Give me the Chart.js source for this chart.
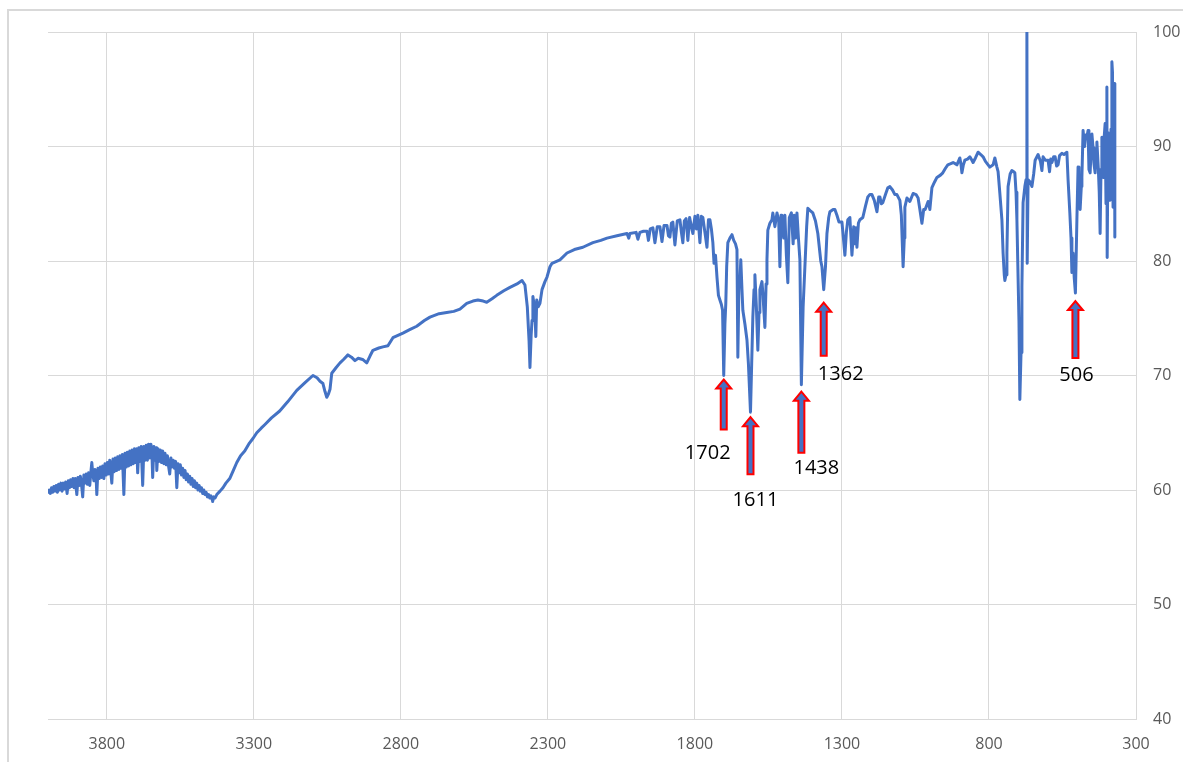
<!DOCTYPE html>
<html>
<head>
<meta charset="utf-8">
<title>FTIR spectrum</title>
<script src="https://cdn.jsdelivr.net/npm/chart.js@4/dist/chart.umd.min.js"></script>
<style>
  html, body { margin: 0; padding: 0; background: #ffffff; }
  body { width: 1183px; height: 762px; position: relative; overflow: hidden; }
  #frame {
    position: absolute; left: 7px; top: 9px; width: 1400px; height: 1000px;
    border-left: 2px solid #d9d9d9; border-top: 2px solid #d9d9d9;
  }
  #spectrum { position: absolute; left: 0; top: 0; }
</style>
</head>
<body>
<div id="frame"></div>
<canvas id="spectrum" width="1183" height="762"></canvas>
<script>
// Wavenumber (cm-1), scanned from high to low
const wavenumber = [
  4000, 3996, 3992, 3988, 3984, 3980, 3976, 3972, 3968, 3964,
  3960, 3956, 3952, 3948, 3944, 3940, 3935, 3931, 3927, 3923,
  3919, 3915, 3911, 3907, 3902, 3898, 3894, 3890, 3886, 3882,
  3878, 3874, 3870, 3866, 3862, 3858, 3854, 3851, 3848, 3844,
  3840, 3836, 3834, 3830, 3826, 3822, 3818, 3814, 3810, 3806,
  3802, 3798, 3794, 3790, 3786, 3783, 3779, 3775, 3771, 3767,
  3763, 3759, 3755, 3751, 3747, 3742, 3738, 3734, 3730, 3726,
  3722, 3718, 3714, 3710, 3706, 3702, 3698, 3695, 3691, 3687,
  3683, 3678, 3674, 3670, 3666, 3662, 3658, 3654, 3650, 3646,
  3644, 3640, 3636, 3632, 3630, 3626, 3622, 3618, 3614, 3610,
  3606, 3602, 3598, 3594, 3590, 3586, 3582, 3578, 3574, 3570,
  3566, 3562, 3558, 3554, 3550, 3546, 3542, 3538, 3534, 3530,
  3526, 3522, 3518, 3514, 3510, 3506, 3502, 3498, 3494, 3490,
  3486, 3482, 3478, 3474, 3470, 3466, 3462, 3458, 3454, 3450,
  3446, 3442, 3440, 3436, 3432, 3426, 3415,
  3405, 3395, 3382, 3370, 3358, 3345, 3331, 3315, 3303, 3290,
  3275, 3263, 3240, 3212, 3185, 3154, 3125, 3099, 3085, 3075,
  3065, 3058, 3052, 3046, 3041, 3035, 3020, 3007, 2995, 2980,
  2968, 2956, 2945, 2930, 2916, 2905, 2895, 2875, 2861, 2844,
  2827, 2810, 2793, 2770, 2746, 2720, 2701, 2670, 2644, 2620,
  2599, 2576, 2555, 2538, 2520, 2508, 2490, 2474, 2450, 2429,
  2405, 2388, 2378, 2370, 2364, 2361, 2357, 2354, 2351, 2347,
  2344, 2341, 2338, 2333, 2327, 2320, 2310, 2303, 2293, 2286,
  2259, 2235, 2210, 2181, 2147, 2120, 2099, 2065, 2031, 2025,
  2021, 2000, 1994, 1987, 1975, 1963, 1958, 1952, 1943, 1936,
  1928, 1919, 1912, 1905, 1895, 1890, 1885, 1880, 1875, 1868,
  1860, 1851, 1846, 1841, 1836, 1830, 1824, 1818, 1812, 1807,
  1800, 1795, 1790, 1783, 1778, 1773, 1766, 1759, 1754, 1749,
  1744, 1739, 1735, 1730, 1725, 1720, 1715, 1710, 1706, 1702,
  1698, 1695, 1692, 1688, 1681, 1674, 1668, 1662, 1657, 1654,
  1650, 1647, 1644, 1640, 1637, 1630, 1623, 1618, 1611, 1607,
  1603, 1599, 1596, 1591, 1586, 1582, 1579, 1572, 1569, 1562,
  1558, 1555, 1552, 1545, 1538, 1535, 1528, 1521, 1515, 1511,
  1507, 1504, 1498, 1494, 1489, 1484, 1479, 1472, 1466, 1462,
  1458, 1453, 1448, 1443, 1438, 1432, 1426, 1420, 1416, 1408,
  1399, 1390, 1382, 1372, 1368, 1362, 1356, 1351, 1345, 1341,
  1330, 1324, 1317, 1310, 1300, 1295, 1290, 1285, 1280, 1273,
  1266, 1260, 1256, 1252, 1249, 1244, 1239, 1229, 1220, 1212,
  1205, 1198, 1190, 1181, 1175, 1171, 1166, 1161, 1152, 1144,
  1137, 1128, 1120, 1113, 1103, 1098, 1094, 1092, 1088, 1086,
  1079, 1069, 1058, 1048, 1041, 1035, 1028, 1022, 1017, 1007,
  1001, 994, 985, 977, 965, 957, 948, 940, 930, 922,
  915, 909, 899, 895, 892, 887, 882, 873, 865, 858,
  854, 846, 837, 828, 820, 812, 803, 797, 786, 780,
  773, 769, 763, 756, 752, 748, 746, 742, 739, 735,
  728, 722, 716, 712, 708, 705, 698, 695, 691, 688,
  684, 678, 674, 671, 670, 667, 660, 654, 648, 643,
  633, 625, 620, 616, 608, 599, 594, 590, 586, 580,
  575, 570, 565, 560, 552, 545, 535, 531, 525, 521,
  518, 514, 510, 506, 501, 497, 494, 490, 486, 484,
  480, 475, 471, 467, 463, 460, 456, 453, 450, 446,
  443, 439, 436, 433, 428, 425, 422, 419, 416, 412,
  409, 405, 402, 399, 398, 395, 391, 388, 385, 382,
  380, 378, 376, 373, 372
];

// Transmittance (%) at each wavenumber above
const transmittance = [
  59.8, 60.0, 59.7, 60.2, 59.8, 60.3, 59.9, 60.4, 59.8, 60.5,
  60.0, 60.6, 59.9, 60.6, 60.1, 60.7, 59.7, 60.8, 60.2, 60.9,
  60.3, 61.0, 60.2, 61.0, 59.6, 61.1, 60.4, 61.2, 60.5, 59.4,
  61.3, 60.6, 61.4, 60.5, 61.5, 60.4, 61.6, 62.4, 61.5, 60.8,
  61.8, 60.9, 59.6, 61.9, 61.0, 62.0, 61.1, 62.1, 61.0, 62.3,
  61.3, 62.4, 61.4, 62.6, 61.5, 60.6, 62.7, 61.6, 62.8, 61.7,
  62.9, 61.8, 63.0, 61.9, 63.1, 59.6, 63.2, 62.0, 63.3, 62.1,
  63.4, 62.2, 63.5, 62.3, 63.6, 62.4, 63.6, 61.5, 63.7, 62.5,
  63.8, 60.4, 63.8, 62.6, 63.9, 62.6, 64.0, 62.8, 64.0, 62.7,
  61.1, 63.8, 62.6, 63.7, 61.7, 63.6, 62.5, 63.5, 62.4, 63.4,
  62.3, 63.2, 62.2, 63.0, 62.1, 61.4, 62.8, 62.0, 62.6, 61.9,
  62.5, 60.2, 62.3, 61.5, 62.2, 61.3, 61.9, 61.1, 61.7, 60.9,
  61.4, 60.7, 61.2, 60.5, 61.0, 60.3, 60.8, 60.2, 60.6, 60.0,
  60.4, 59.9, 60.2, 59.7, 60.0, 59.6, 59.8, 59.4, 59.6, 59.3,
  59.5, 59.2, 59.0, 59.4, 59.3, 59.6, 59.9,
  60.2, 60.6, 61.0, 61.7, 62.4, 63.0, 63.4, 64.1, 64.5, 65.0,
  65.4, 65.7, 66.3, 66.9, 67.7, 68.7, 69.4, 70.0, 69.8, 69.5,
  69.3, 68.6, 68.1, 68.4, 68.8, 70.2, 70.7, 71.1, 71.4, 71.8,
  71.6, 71.3, 71.5, 71.4, 71.1, 71.7, 72.2, 72.4, 72.5, 72.6,
  73.3, 73.5, 73.7, 74.0, 74.3, 74.8, 75.1, 75.4, 75.5, 75.6,
  75.8, 76.3, 76.5, 76.6, 76.5, 76.4, 76.7, 77.0, 77.4, 77.7,
  78.0, 78.3, 77.9, 76.0, 73.0, 70.7, 73.5, 74.8, 76.9, 76.2,
  75.5, 73.4, 76.6, 76.0, 76.3, 77.5, 78.2, 78.6, 79.5, 79.8,
  80.1, 80.7, 81.0, 81.2, 81.6, 81.8, 82.0, 82.2, 82.4, 82.0,
  82.4, 82.5, 81.9, 82.5, 82.6, 82.6, 81.8, 82.8, 82.9, 81.6,
  83.0, 83.0, 81.7, 83.1, 83.1, 82.2, 82.1, 83.3, 83.4, 81.4,
  83.5, 83.6, 82.5, 81.6, 83.5, 83.7, 81.8, 83.8, 83.0, 82.4,
  83.9, 82.8, 84.0, 81.6, 83.9, 83.8, 82.5, 81.2, 83.6, 83.6,
  82.8, 81.6, 79.8, 80.5, 78.6, 77.0, 76.6, 76.2, 75.7, 70.0,
  74.5, 76.3, 79.5, 81.6, 82.0, 82.3, 81.8, 81.5, 81.0, 71.6,
  78.5, 78.1, 80.1, 77.5, 75.7, 74.5, 73.1, 71.0, 66.8, 71.0,
  75.1, 77.5, 78.8, 76.0, 72.2, 75.5, 77.5, 78.2, 77.2, 74.2,
  78.0, 80.1, 82.7, 83.3, 83.6, 84.2, 83.0, 84.2, 83.5, 79.5,
  84.0, 83.6, 82.0, 84.0, 80.5, 78.1, 83.8, 84.2, 81.5, 84.0,
  82.0, 84.2, 82.0, 80.1, 69.2, 76.0, 79.5, 83.0, 84.6, 84.4,
  84.2, 83.5, 82.4, 80.0, 79.5, 77.5, 79.5, 82.4, 83.8, 84.3,
  84.5, 84.5, 84.0, 83.4, 83.4, 82.0, 80.5, 82.5, 83.6, 83.8,
  80.5, 83.0, 81.5, 82.9, 81.2, 83.3, 83.6, 83.8, 84.8, 85.6,
  85.8, 85.8, 85.3, 84.3, 85.6, 85.6, 85.0, 85.1, 85.8, 86.4,
  86.5, 86.2, 85.8, 85.8, 85.3, 84.0, 81.0, 79.5, 82.0, 84.7,
  85.5, 85.2, 85.9, 85.8, 85.5, 84.5, 83.3, 84.5, 84.5, 85.2,
  84.5, 86.4, 86.9, 87.3, 87.5, 87.7, 88.1, 88.4, 88.5, 88.6,
  88.5, 88.4, 89.0, 88.4, 87.7, 88.4, 88.8, 88.9, 89.1, 88.8,
  88.6, 89.0, 89.5, 89.3, 89.1, 88.7, 88.4, 88.2, 88.4, 89.0,
  88.2, 87.8, 85.9, 83.6, 80.7, 78.8, 78.3, 78.8, 80.7, 86.5,
  87.6, 87.9, 87.8, 87.7, 86.0, 83.6, 74.8, 67.9, 72.0, 77.7,
  85.1, 86.5, 87.1, 100.0, 79.8, 87.1, 86.9, 86.5, 87.6, 88.8,
  89.3, 88.7, 87.9, 89.1, 88.8, 88.8, 87.8, 88.9, 88.6, 89.1,
  89.1, 88.3, 88.4, 89.2, 89.4, 89.3, 89.5, 87.1, 84.2, 82.0,
  79.0, 80.7, 78.5, 77.2, 83.6, 88.2, 86.0, 84.5, 86.5, 87.3,
  91.4, 90.0, 91.0, 90.8, 91.4, 88.0, 87.7, 89.5, 91.1, 89.9,
  88.5, 87.7, 89.5, 90.4, 88.0, 86.0, 82.4, 88.0, 90.8, 87.3,
  90.5, 92.0, 85.0, 95.2, 80.3, 91.2, 87.0, 85.3, 91.5, 97.4,
  96.5, 84.7, 90.0, 95.5, 82.1
];

// Axis ticks
const xTickValues = [3800, 3300, 2800, 2300, 1800, 1300, 800, 300];
const yTickValues = [40, 50, 60, 70, 80, 90, 100];

// Assigned bands, marked with arrows
const bandLabels = [1702, 1611, 1438, 1362, 506];

// Arrow placement per band: gap below the band minimum, arrow length, label offset (px)
const arrowGeometry = [
  { gap: 4,  length: 50, dx: -16, dy: 24 },
  { gap: 5,  length: 57, dx: 5,   dy: 26 },
  { gap: 7,  length: 61, dx: 15,  dy: 16 },
  { gap: 13, length: 53, dx: 17,  dy: 19 },
  { gap: 8,  length: 57, dx: 1,   dy: 17 }
];

const LINE_BLUE = '#4472C4';
const GRID_GREY = '#d9d9d9';
const TICK_GREY = '#595959';
const TICK_FONT = { family: '"Open Sans", "Noto Sans", sans-serif', size: 16 };

const bandArrows = {
  id: 'bandArrows',
  afterDatasetsDraw(chart) {
    const { ctx, scales: { x, y } } = chart;
    const headW = 15, headH = 9, shaftW = 6;
    ctx.save();
    bandLabels.forEach((wn, i) => {
      const idx = wavenumber.indexOf(wn);
      const g = arrowGeometry[i];
      const px = x.getPixelForValue(wn);
      const tip = y.getPixelForValue(transmittance[idx]) + g.gap;
      const base = tip + g.length;
      ctx.beginPath();
      ctx.moveTo(px, tip);
      ctx.lineTo(px + headW / 2, tip + headH);
      ctx.lineTo(px + shaftW / 2, tip + headH);
      ctx.lineTo(px + shaftW / 2, base);
      ctx.lineTo(px - shaftW / 2, base);
      ctx.lineTo(px - shaftW / 2, tip + headH);
      ctx.lineTo(px - headW / 2, tip + headH);
      ctx.closePath();
      ctx.fillStyle = LINE_BLUE;
      ctx.fill();
      ctx.lineJoin = 'miter';
      ctx.lineWidth = 2;
      ctx.strokeStyle = '#ff0000';
      ctx.stroke();

      ctx.fillStyle = '#000000';
      ctx.font = '20px "Open Sans", "Noto Sans", sans-serif';
      ctx.textAlign = 'center';
      ctx.textBaseline = 'middle';
      ctx.fillText(String(wn), px + g.dx, base + g.dy);
    });
    ctx.restore();
  }
};

new Chart(document.getElementById('spectrum'), {
  type: 'line',
  data: {
    datasets: [{
      data: wavenumber.map((w, i) => ({ x: w, y: transmittance[i] })),
      borderColor: LINE_BLUE,
      borderWidth: 3,
      borderJoinStyle: 'round',
      borderCapStyle: 'round',
      pointRadius: 0,
      tension: 0,
      fill: false
    }]
  },
  options: {
    responsive: false,
    animation: false,
    devicePixelRatio: 1,
    layout: { padding: { left: 48, top: 32, right: 0, bottom: 0 } },
    plugins: {
      legend: { display: false },
      tooltip: { enabled: false },
      title: { display: false }
    },
    scales: {
      x: {
        type: 'linear',
        reverse: true,
        min: 300,
        max: 4000,
        afterBuildTicks: axis => { axis.ticks = xTickValues.map(v => ({ value: v })); },
        afterFit: axis => { axis.height = 43; },
        grid: { color: GRID_GREY, lineWidth: 1, drawTicks: false },
        border: { display: true, color: GRID_GREY, width: 1 },
        ticks: {
          autoSkip: false,
          maxRotation: 0,
          padding: 16,
          color: TICK_GREY,
          font: TICK_FONT,
          callback: v => String(v)
        }
      },
      y: {
        type: 'linear',
        position: 'right',
        min: 40,
        max: 100,
        afterBuildTicks: axis => { axis.ticks = yTickValues.map(v => ({ value: v })); },
        afterFit: axis => { axis.width = 47; },
        grid: { color: GRID_GREY, lineWidth: 1, drawTicks: false },
        border: { display: true, color: GRID_GREY, width: 1 },
        ticks: {
          padding: 17,
          color: TICK_GREY,
          font: TICK_FONT,
          callback: v => String(v)
        }
      }
    }
  },
  plugins: [bandArrows]
});
</script>
</body>
</html>
